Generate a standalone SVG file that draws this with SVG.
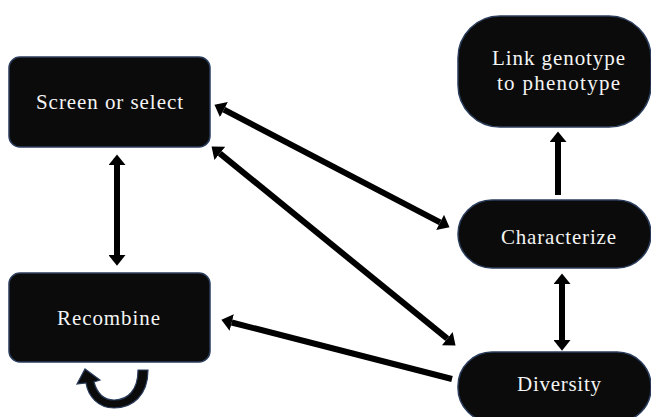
<svg xmlns="http://www.w3.org/2000/svg" width="651" height="417" viewBox="0 0 651 417">
<style>
.box{fill:#0b0b0b;stroke:#2b3d5c;stroke-width:1.5}
.arr{stroke:#000;stroke-width:6;fill:none;stroke-linecap:butt}
</style>
<defs>
<marker id="ah" markerUnits="userSpaceOnUse" markerWidth="11" markerHeight="17" viewBox="0 -8 10 16" refX="0" refY="0" orient="auto-start-reverse">
<path d="M0,-8 L10,0 L0,8 z" fill="#000"/>
</marker>
</defs>
<rect width="651" height="417" fill="#fff"/>
<g font-family="Liberation Serif, DejaVu Serif, serif" font-size="21" fill="#f4f4f4" text-anchor="middle">
<g id="screen">
<rect class="box" x="9" y="57" width="201" height="90" rx="11"/>
<text x="109.5" y="109" textLength="147" lengthAdjust="spacing">Screen or select</text>
</g>
<g id="recombine">
<rect class="box" x="9" y="273" width="201" height="89" rx="11"/>
<text x="108.5" y="325" textLength="103" lengthAdjust="spacing">Recombine</text>
<path d="M138 370 L148 370 C148 396 132 408 114 408 C98 408 88 396 86 383 L77 384 L85 369 L100 380 L94 382 C97 393 104 400 114 400 C128 400 138 390 138 370 Z" fill="#0b0b0b" stroke="#2b3d5c" stroke-width="1.2"/>
</g>
<g id="link">
<rect class="box" x="458" y="16" width="193" height="111" rx="42"/>
<text x="558.5" y="65" textLength="133" lengthAdjust="spacing">Link genotype</text>
<text x="558.5" y="90" textLength="123" lengthAdjust="spacing">to phenotype</text>
</g>
<g id="characterize">
<rect class="box" x="458" y="200" width="193" height="68" rx="34"/>
<text x="558.5" y="244" textLength="115" lengthAdjust="spacing">Characterize</text>
</g>
<g id="diversity">
<rect class="box" x="458" y="352" width="193" height="70" rx="34"/>
<text x="559" y="391" textLength="84" lengthAdjust="spacing">Diversity</text>
</g>
</g>
<g id="connectors">
<line class="arr" x1="117" y1="165" x2="117" y2="255" marker-start="url(#ah)" marker-end="url(#ah)"/>
<line class="arr" x1="558" y1="195" x2="558" y2="142" marker-end="url(#ah)"/>
<line class="arr" x1="562" y1="284" x2="562" y2="340" marker-start="url(#ah)" marker-end="url(#ah)"/>
<line class="arr" x1="223.9" y1="109.6" x2="440.1" y2="222.4" marker-start="url(#ah)" marker-end="url(#ah)"/>
<line class="arr" x1="219.8" y1="153.3" x2="447.3" y2="338.7" marker-start="url(#ah)" marker-end="url(#ah)"/>
<line class="arr" x1="452" y1="379" x2="231.7" y2="322.5" marker-end="url(#ah)"/>
</g>
</svg>
